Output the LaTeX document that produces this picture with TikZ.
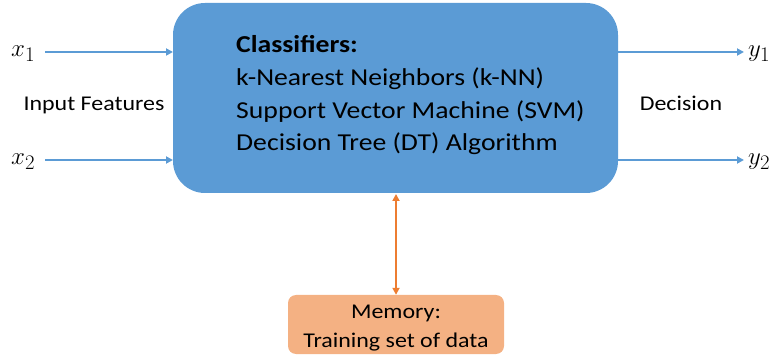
\documentclass[tikz,border=0pt]{standalone}
\usepackage{fontspec}
\setmainfont{Carlito}[FakeStretch=1.14]
\usetikzlibrary{arrows.meta}
\definecolor{boxblue}{HTML}{5B9BD5}
\definecolor{memfill}{HTML}{F4B183}
\definecolor{memline}{HTML}{ED7D31}
\begin{document}
\begin{tikzpicture}[x=1pt,y=-1pt,
  bluearrow/.style={draw=boxblue,line width=1.8pt,-{Triangle[length=7pt,width=7pt]}},
  orangearrow/.style={draw=memline,line width=1.8pt,{Triangle[length=7pt,width=7pt]}-{Triangle[length=7pt,width=7pt]}},
  lbl/.style={inner sep=0pt,font=\fontsize{21}{25}\selectfont},
  mainln/.style={inner sep=0pt,anchor=base west,font=\fontsize{24.3}{29}\selectfont},
  mathlbl/.style={inner sep=0pt,anchor=base west,font=\fontsize{30}{34}\selectfont}]
\useasboundingbox (0,0) rectangle (777,358);
% main box
\node[fill=boxblue,rounded corners=32pt,minimum width=445pt,minimum height=190pt,inner sep=0pt] (cls) at (395.5,98) {};
\node[mainln] (t1) at (236,53) {\textbf{Classifiers:}};
\node[mainln] (t2) at (236,86) {k-Nearest Neighbors (k-NN)};
\node[mainln] (t3) at (236,118.5) {Support Vector Machine (SVM)};
\node[mainln] (t4) at (236,151) {Decision Tree (DT) Algorithm};
% memory box
\node[fill=memfill,rounded corners=8pt,minimum width=216pt,minimum height=59pt,inner sep=0pt] (mem) at (396,324.5) {};
\node[lbl,anchor=base] (m1) at (396,319) {Memory:};
\node[lbl,anchor=base] (m2) at (396,347) {Training set of data};
% inputs
\node[mathlbl] (x1) at (11,57) {$x_1$};
\node[mathlbl] (x2) at (11,165) {$x_2$};
\node[lbl,anchor=base] (inp) at (94,111) {Input Features};
\coordinate (x1s) at (45,52);
\coordinate (x2s) at (45,160);
\draw[bluearrow] (x1s) -- (173,52);
\draw[bluearrow] (x2s) -- (173,160);
% outputs
\node[mathlbl] (y1) at (748,57) {$y_1$};
\node[mathlbl] (y2) at (748,165) {$y_2$};
\node[lbl,anchor=base] (dec) at (681,111) {Decision};
\coordinate (y1s) at (618,52);
\coordinate (y2s) at (618,160);
\draw[bluearrow] (y1s) -- (744,52);
\draw[bluearrow] (y2s) -- (744,160);
% memory link
\draw[orangearrow] (396,194) -- (mem.north);
\end{tikzpicture}
\end{document}
